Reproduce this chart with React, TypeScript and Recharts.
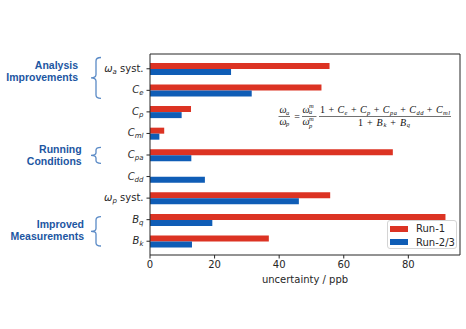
import React from 'react';
import { BarChart, Bar, XAxis, YAxis } from 'recharts';

const categories = ['ωa syst.', 'Ce', 'Cp', 'Cml', 'Cpa', 'Cdd', 'ωp syst.', 'Bq', 'Bk'];
const tickMain = ['ω', 'C', 'C', 'C', 'C', 'C', 'ω', 'B', 'B'];
const tickSub = ['a', 'e', 'p', 'ml', 'pa', 'dd', 'p', 'q', 'k'];
const tickSuffix = [' syst.', '', '', '', '', '', ' syst.', '', ''];
const run1 = [55.6, 53.1, 12.7, 4.4, 75.2, 0, 55.8, 91.5, 36.8];
const run23 = [25.1, 31.5, 9.8, 2.9, 12.8, 17.0, 46.1, 19.3, 13.0];
const xTicks = [0, 20, 40, 60, 80];
const seriesNames = ['Run-1', 'Run-2/3'];
const xLabel = 'uncertainty / ppb';
const groupLabels = [
  ['Analysis', 'Improvements'],
  ['Running', 'Conditions'],
  ['Improved', 'Measurements'],
];

const RED = '#DC3323';
const BLUE = '#0F5DB6';
const GROUP_BLUE = '#1D56A2';
const BRACE = '#5A8AC6';
const INK = '#262626';

const data = categories.map((c, i) => ({ name: c, run1: run1[i], run23: run23[i] }));

const YTick = (props: any) => {
  const { x, y, index } = props;
  const i = index;
  return (
    <text x={x} y={y} dy={3} textAnchor="end" fontFamily="DejaVu Sans" fontSize={10} fill={INK}>
      <tspan fontStyle="italic">{tickMain[i]}</tspan>
      <tspan fontStyle="italic" fontSize={7} dy={2}>{tickSub[i]}</tspan>
      {tickSuffix[i] ? <tspan dy={-2}>{'\u00a0' + tickSuffix[i].trim()}</tspan> : null}
    </text>
  );
};

const LegendBox = () => (
  <div
    style={{
      position: 'absolute',
      left: 387,
      top: 220,
      width: 70,
      height: 29,
      border: '1px solid #d4d4d4',
      borderRadius: 3,
      background: 'rgba(255,255,255,0.85)',
      boxSizing: 'border-box',
      fontFamily: 'DejaVu Sans',
      fontSize: 10,
      color: INK,
      paddingTop: 1,
    }}
  >
    {seriesNames.map((n, i) => (
      <div key={n} style={{ display: 'flex', alignItems: 'center', height: 13.5, lineHeight: '13.5px' }}>
        <span
          style={{
            display: 'inline-block',
            width: 18,
            height: 6,
            marginLeft: 2,
            marginRight: 8,
            background: i === 0 ? RED : BLUE,
          }}
        />
        <span>{n}</span>
      </div>
    ))}
  </div>
);

const S = 6.5;

const Annotations = () => (
  <svg
    width={466}
    height={329}
    style={{ position: 'absolute', left: 0, top: 0, pointerEvents: 'none', overflow: 'visible' }}
  >
    {/* braces */}
    <g fill="none" stroke={BRACE} strokeWidth={1.3}>
      <path d="M101,57.5 Q96,57.5 96,61 L96,74.5 Q96,77.8 91,77.8 Q96,77.8 96,81 L96,95 Q96,98.3 101,98.3" />
      <path d="M101,147.3 Q96,147.3 96,150 L96,152.8 Q96,155.3 91,155.3 Q96,155.3 96,158 L96,160.6 Q96,163.3 101,163.3" />
      <path d="M101,216.7 Q96,216.7 96,220 L96,228.5 Q96,231.4 91,231.4 Q96,231.4 96,234 L96,243 Q96,246 101,246" />
    </g>
    <g fontFamily="Liberation Sans, Arial, sans-serif" fontWeight="bold" fontSize={10.5} fill={GROUP_BLUE} textAnchor="end">
      <text x={78} y={68.5}>{groupLabels[0][0]}</text>
      <text x={78} y={80.5}>{groupLabels[0][1]}</text>
      <text x={81.7} y={152.5}>{groupLabels[1][0]}</text>
      <text x={81.7} y={164.5}>{groupLabels[1][1]}</text>
      <text x={84} y={227.5}>{groupLabels[2][0]}</text>
      <text x={84} y={239.5}>{groupLabels[2][1]}</text>
    </g>
    {/* formula */}
    <g fontFamily="Liberation Serif, DejaVu Serif, serif" fontSize={10} fill="#111">
      <text x={279.5} y={113} fontStyle="italic">ω</text>
      <text x={286} y={114.8} fontStyle="italic" fontSize={S}>a</text>
      <line x1={278.5} x2={290} y1={116.5} y2={116.5} stroke="#111" strokeWidth={0.6} />
      <text x={279.5} y={124.5} fontStyle="italic">ω</text>
      <text x={286} y={126.3} fontStyle="italic" fontSize={S}>p</text>
      <text x={297} y={119.5} textAnchor="middle">=</text>
      <text x={302.5} y={113} fontStyle="italic">ω</text>
      <text x={309} y={108.4} fontStyle="italic" fontSize={S}>m</text>
      <text x={309} y={114.4} fontStyle="italic" fontSize={S}>a</text>
      <line x1={302} x2={316.5} y1={116.5} y2={116.5} stroke="#111" strokeWidth={0.6} />
      <text x={302.5} y={124.5} fontStyle="italic">ω</text>
      <text x={309} y={121.4} fontStyle="italic" fontSize={S}>m</text>
      <text x={309} y={127.6} fontStyle="italic" fontSize={S}>p</text>
      <text x={320} y={113} textLength={130} lengthAdjust="spacing">
        <tspan>1 + </tspan>
        <tspan fontStyle="italic">C</tspan><tspan fontStyle="italic" fontSize={S} dy={1.8}>e</tspan>
        <tspan dy={-1.8}> + </tspan>
        <tspan fontStyle="italic">C</tspan><tspan fontStyle="italic" fontSize={S} dy={1.8}>p</tspan>
        <tspan dy={-1.8}> + </tspan>
        <tspan fontStyle="italic">C</tspan><tspan fontStyle="italic" fontSize={S} dy={1.8}>pa</tspan>
        <tspan dy={-1.8}> + </tspan>
        <tspan fontStyle="italic">C</tspan><tspan fontStyle="italic" fontSize={S} dy={1.8}>dd</tspan>
        <tspan dy={-1.8}> + </tspan>
        <tspan fontStyle="italic">C</tspan><tspan fontStyle="italic" fontSize={S} dy={1.8}>ml</tspan>
      </text>
      <line x1={319} x2={451} y1={116.5} y2={116.5} stroke="#111" strokeWidth={0.6} />
      <text x={358} y={125.5} textLength={52} lengthAdjust="spacing">
        <tspan>1 + </tspan>
        <tspan fontStyle="italic">B</tspan><tspan fontStyle="italic" fontSize={S} dy={1.8}>k</tspan>
        <tspan dy={-1.8}> + </tspan>
        <tspan fontStyle="italic">B</tspan><tspan fontStyle="italic" fontSize={S} dy={1.8}>q</tspan>
      </text>
    </g>
  </svg>
);

export default function App() {
  return (
    <div style={{ position: 'absolute', left: 0, top: 0, width: 466, height: 329, background: '#fff' }}>
      <BarChart
        width={466}
        height={329}
        data={data}
        layout="vertical"
        margin={{ top: 53, right: 5, bottom: 44, left: 0 }}
        barSize={6}
        barGap={0}
      >
        <XAxis
          type="number"
          dataKey="run1"
          domain={[0, 96]}
          ticks={xTicks}
          allowDataOverflow
          height={30}
          tickSize={3.5}
          tickMargin={2}
          stroke={INK}
          tick={{ fontSize: 10, fill: INK, fontFamily: 'DejaVu Sans' }}
          label={{ value: xLabel, position: 'insideBottom', offset: 2, fontSize: 10, fill: INK, fontFamily: 'DejaVu Sans' }}
        />
        <XAxis
          xAxisId="top"
          orientation="top"
          type="number"
          domain={[0, 96]}
          height={1}
          tick={false}
          tickLine={false}
          stroke={INK}
        />
        <YAxis
          type="category"
          dataKey="name"
          width={150}
          padding={{ top: 4, bottom: 3 }}
          tickSize={3.5}
          tickMargin={3}
          stroke={INK}
          interval={0}
          tick={<YTick />}
        />
        <YAxis
          yAxisId="right"
          orientation="right"
          type="category"
          dataKey="name"
          width={1}
          tick={false}
          tickLine={false}
          stroke={INK}
        />
        <Bar dataKey="run1" name={seriesNames[0]} fill={RED} isAnimationActive={false} />
        <Bar dataKey="run23" name={seriesNames[1]} fill={BLUE} isAnimationActive={false} />
      </BarChart>
      <LegendBox />
      <Annotations />
    </div>
  );
}
